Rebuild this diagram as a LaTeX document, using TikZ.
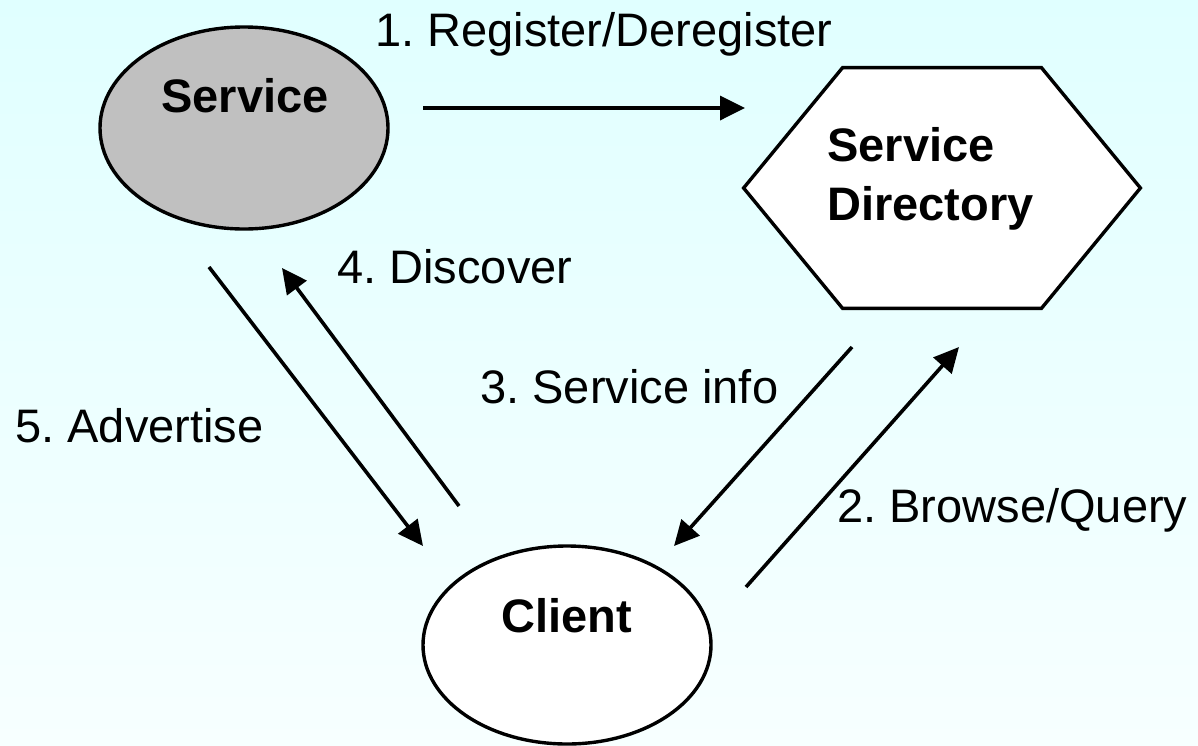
\documentclass[tikz,border=0pt]{standalone}
\usepackage{fontspec}
\setmainfont{Liberation Sans}
\usetikzlibrary{arrows.meta,shapes.geometric,calc}
\frenchspacing
\tikzset{
  px/.style={x=0.5pt,y=-0.5pt},
  shapeline/.style={draw=black,line width=1.7pt},
  flow/.style={line width=1.8pt,-{Triangle[length=12.5pt,width=12pt]}},
  lbl/.style={inner sep=0pt,anchor=base west,font=\fontsize{23.5}{28.5}\selectfont},
  title/.style={inner sep=0pt,font=\fontsize{23.5}{28.5}\selectfont\bfseries},
}
\begin{document}
\begin{tikzpicture}[px]
\shade[top color={rgb,255:red,224;green,255;blue,255},bottom color={rgb,255:red,247;green,255;blue,255}] (0,0) rectangle (1198,745);
\useasboundingbox (0,0) rectangle (1198,745);
% nodes
\node[shapeline,ellipse,fill={rgb,255:red,192;green,192;blue,192},minimum width=144pt,minimum height=101pt,inner sep=0pt] (service) at (244,128) {};
\node[title,anchor=base] (servicetxt) at (245,112) {Service};
\node[shapeline,ellipse,fill=white,minimum width=144pt,minimum height=99pt,inner sep=0pt] (client) at (567,645) {};
\node[title,anchor=base] (clienttxt) at (567,632) {Client};
\node[minimum width=198pt,minimum height=120pt,inner sep=0pt] (dir) at (942,188) {};
\draw[shapeline,fill=white,line join=miter] (dir.west) -- ([xshift=49.5pt]dir.north west) -- ([xshift=-49.5pt]dir.north east) -- (dir.east) -- ([xshift=-49.5pt]dir.south east) -- ([xshift=49.5pt]dir.south west) -- cycle;
\node[title,anchor=base west,align=left] (dirtxt) at (827,220) {Service\\[0.75pt]Directory};
% connector end points
\coordinate (r1) at (423,108);
\coordinate (r2) at (745,108);
\coordinate (a1) at (209,267);
\coordinate (a2) at (423,546);
\coordinate (d1) at (459,506);
\coordinate (d2) at (282,268);
\coordinate (s1) at (852,347);
\coordinate (s2) at (674,546);
\coordinate (b1) at (746,587);
\coordinate (b2) at (959,347);
\draw[flow] (r1) -- (r2);
\draw[flow] (a1) -- (a2);
\draw[flow] (d1) -- (d2);
\draw[flow] (s1) -- (s2);
\draw[flow] (b1) -- (b2);
% labels
\node[lbl] (l1) at (375,46) {1. Register/Deregister};
\node[lbl] (l2) at (837,522) {2. Browse/Query};
\node[lbl] (l3) at (480,403) {3. Service info};
\node[lbl] (l4) at (337,283) {4. Discover};
\node[lbl] (l5) at (15,442) {5. Advertise};
\end{tikzpicture}
\end{document}
